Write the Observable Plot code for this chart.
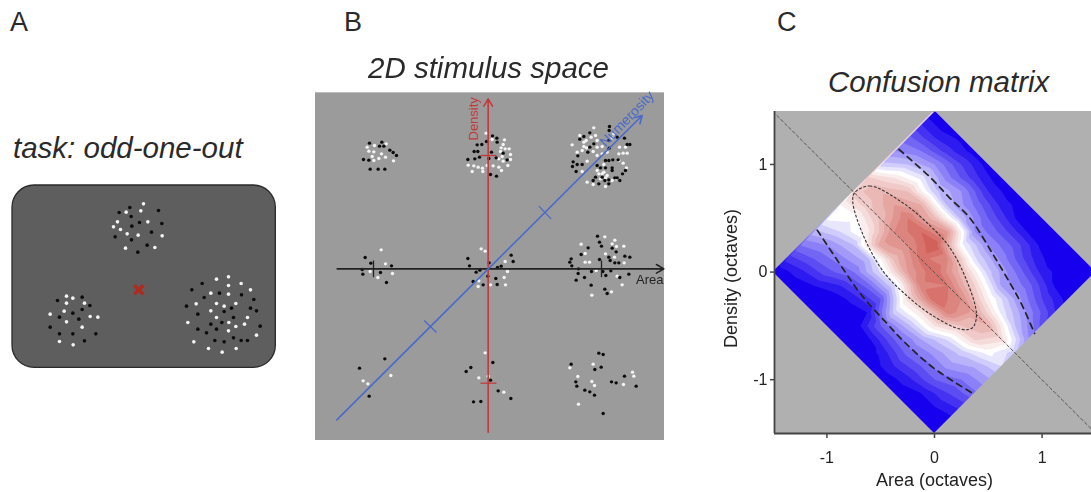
<!DOCTYPE html>
<html><head><meta charset="utf-8">
<script src="https://cdn.jsdelivr.net/npm/d3@7"></script>
<script src="https://cdn.jsdelivr.net/npm/@observablehq/plot@0.6"></script>
<style>
html,body{margin:0;padding:0;background:#fff;width:1091px;height:492px;overflow:hidden}
#page{position:relative;width:1091px;height:492px;overflow:hidden;font-family:"Liberation Sans",Arial,sans-serif;color:#2a2a2a}
.t{position:absolute;white-space:nowrap;line-height:1}
.h{font-size:29.5px;font-style:italic}
.l{font-size:27px}
svg.panel{position:absolute;background:transparent;filter:blur(.45px)}
</style></head><body><div id="page"></div>
<script>
// ---------- Panel A: odd-one-out display (stimulus units) ----------
const aTopWhite=[[429,100],[377,125],[421,121],[351,154],[339,169],[360,177],[442,154],[380,190],[413,194],[485,196],[375,233],[463,231]];
const aTopBlack=[[388,111],[356,126],[474,120],[392,138],[417,156],[484,159],[394,167],[453,185],[344,199],[393,208],[440,224],[412,245]];
const aLeftWhite=[[198,377],[217,383],[198,398],[252,398],[191,422],[149,431],[269,438],[292,440],[198,454],[245,470],[177,513],[218,523]];
const aLeftBlack=[[171,390],[245,380],[268,405],[245,417],[217,428],[177,440],[235,446],[149,470],[177,490],[217,490],[286,490],[252,511]];
const aRightWhite=[[648,326],[684,319],[684,345],[722,339],[750,358],[631,368],[684,371],[587,400],[648,399],[671,407],[706,399],[631,421],[648,441],[741,441],[562,456],[685,456],[706,468],[732,461],[684,481],[768,494],[580,514],[624,534],[665,545],[707,534]];
const aRightBlack=[[605,339],[574,358],[611,381],[657,368],[723,373],[760,387],[558,407],[693,413],[671,423],[750,413],[768,421],[592,431],[699,441],[631,461],[664,456],[779,467],[592,476],[648,476],[618,487],[699,502],[643,510],[671,514],[722,510],[741,510]];
const aFixation=[[415,358]];
const aScreen=[{x1:36,x2:826,y1:45,y2:592}];

// ---------- Panel B: stimulus space ----------
const b11Black=[[177,158],[214,155],[207,167],[220,167],[238,179],[248,186],[258,195],[159,207],[175,209],[179,236],[203,236],[223,236]];
const b11White=[[227,160],[170,170],[192,165],[175,182],[190,184],[213,190],[185,198],[205,204],[225,200],[190,210],[249,211]];
const b12Black=[[546,136],[528,153],[559,143],[500,163],[514,162],[560,155],[491,183],[502,183],[543,185],[578,188],[472,207],[493,205],[507,200],[535,204],[557,202],[590,208],[540,252],[558,257]];
const b12White=[[527,128],[545,147],[582,148],[578,162],[572,172],[584,175],[596,175],[570,183],[600,192],[575,198],[565,205],[578,212],[592,225],[473,224],[490,226],[503,230],[516,233],[530,225],[548,226],[565,230],[485,243],[517,243],[573,240],[600,207]];
const b13Black=[[897,108],[896,120],[838,127],[820,138],[808,146],[850,160],[838,170],[832,185],[802,196],[895,150],[920,140],[942,143],[950,162],[958,162],[896,173],[885,210],[895,210],[907,208],[923,208],[788,214],[800,222],[815,222],[860,225],[786,228],[797,243],[870,232],[905,232],[885,232],[905,240],[945,240],[936,250],[928,270],[895,268],[875,260],[855,260],[848,270],[865,280],[895,280],[883,270],[920,262],[913,262]];
const b13White=[[850,112],[808,135],[820,155],[785,163],[827,150],[842,140],[855,135],[860,150],[820,168],[848,183],[800,185],[860,170],[875,168],[815,180],[828,172],[910,130],[905,142],[927,170],[945,170],[938,188],[950,188],[925,190],[875,190],[890,185],[830,212],[860,195],[925,210],[938,218],[948,232],[880,222],[860,240],[815,243],[880,245],[875,250],[890,255],[870,265],[885,262],[830,275],[848,282],[885,288],[917,265],[905,270],[865,250]];
const b21Black=[[164,501],[181,518],[243,526],[155,537],[157,551],[210,546],[228,576]];
const b21White=[[212,478],[225,520],[179,543],[246,549],[202,561]];
const b22Black=[[472,504],[477,526],[602,494],[608,513],[536,517],[572,527],[561,531],[508,539],[497,545],[532,557],[556,564],[488,573],[518,583],[560,582]];
const b22White=[[512,475],[524,482],[584,513],[591,543],[581,561],[505,571],[503,588],[540,583],[585,583]];
const b23Black=[[861,437],[867,455],[873,467],[833,472],[905,473],[917,484],[812,492],[895,500],[867,507],[899,510],[943,497],[958,500],[782,505],[778,515],[784,526],[913,517],[925,517],[804,535],[843,543],[877,543],[901,541],[803,549],[886,555],[955,551],[822,561],[797,569],[928,561],[842,584],[883,596],[890,609]];
const b23White=[[883,439],[913,449],[905,460],[918,468],[940,467],[812,461],[824,489],[885,490],[912,500],[824,515],[837,515],[941,517],[857,540],[920,557],[935,583],[903,604],[844,614]];
const b31Black=[[223,805],[147,833],[176,917]];
const b31White=[[158,871],[172,880],[241,855]];
const b32Black=[[547,816],[481,831],[467,843],[540,869],[563,901],[601,924],[489,934],[511,933]];
const b32White=[[524,787],[505,862],[533,857],[580,905]];
const b33Black=[[865,788],[878,792],[782,821],[853,837],[872,830],[942,857],[796,874],[903,874],[917,877],[799,887],[977,887],[823,899],[838,904],[852,914],[878,969]];
const b33White=[[848,821],[778,832],[802,858],[844,873],[966,845],[970,857],[852,885],[939,882],[804,941]];
const bBackground=[{x1:15,x2:1062,y1:7,y2:1050}];
const bDensityAxis={x1:533,y1:1025,x2:533,y2:25};
const bAreaAxis={x1:80,y1:535,x2:1060,y2:535};
const bNumerosityAxis={x1:79,y1:988,x2:995,y2:75};
const bDensityTicks=[{x1:510,x2:558,y1:195,y2:195},{x1:510,x2:558,y1:878,y2:878}];
const bAreaTicks=[{x1:189,x2:189,y1:510,y2:560},{x1:873,x2:873,y1:510,y2:560}];
const bNumerosityTicks=[{x1:685,y1:347,x2:722,y2:385},{x1:341,y1:690,x2:378,y2:726}];

// ---------- Panel C: confusion matrix ----------
// rows: area - density; columns: area + density (octaves)
const along=[-1.5,-1.25,-1,-.75,-.5,-.25,0,.25,.5,.75,1,1.25,1.5];
const across=[-1.5,-1.25,-1,-.75,-.5,-.25,0,.25,.5,.75,1,1.25,1.5];
const confusion=[
 [0,.12,.25,.38,.51,.55,.68,.66,.42,.3,.22,.1,0],
 [0,.08,.2,.3,.45,.52,.68,.74,.6,.4,.25,.1,0],
 [0,.05,.18,.28,.4,.58,.72,.8,.7,.48,.3,.12,.03],
 [0,0,.1,.25,.38,.78,.85,.9,.75,.42,.27,.15,.02],
 [0,0,.07,.22,.46,.72,.85,.95,.72,.38,.3,.12,.02],
 [0,0,.05,.2,.45,.8,.92,1,.8,.38,.24,.1,0],
 [0,.03,.2,.42,.62,.88,.95,.85,.52,.3,.2,.08,0],
 [0,.06,.2,.38,.6,.95,.9,.72,.46,.3,.18,.05,0],
 [0,.1,.22,.35,.6,.88,.85,.65,.42,.28,.18,.04,0],
 [0,.08,.2,.32,.46,.7,.78,.56,.34,.25,.12,.03,0],
 [0,.05,.2,.32,.42,.66,.75,.48,.34,.22,.08,0,0],
 [0,.05,.15,.25,.36,.52,.62,.4,.28,.15,.04,0,0],
 [0,.02,.12,.24,.34,.45,.42,.3,.18,.1,.02,0,0]
];
const diamondX=[-1.5,0,1.5];
const diamondTop=[0,1.5,0];
const diamondBottom=[0,-1.5,0];
const diagonal=[[-1.5,1.49],[1.5,-1.5]];
const ellipse=[[-.74,.74],[-.6,.8],[-.29,.64],[-.04,.43],[.14,.23],[.3,-.08],[.39,-.4],[.35,-.52],[.24,-.53],[-.04,-.39],[-.29,-.19],[-.48,.01],[-.67,.36],[-.76,.66]];
const upperBound=[[-.33,1.14],[-.04,.88],[.14,.69],[.33,.5],[.54,.17],[.7,-.1],[.8,-.28],[.93,-.57]];
const lowerBound=[[-1.09,.39],[-.85,.03],[-.69,-.2],[-.44,-.48],[-.28,-.65],[-.01,-.89],[.36,-1.13]];
const areaTicks=[-1,0,1], densityTicks=[-1,0,1];
const areaLabel="Area (octaves)", densityLabel="Density (octaves)";

const page=document.getElementById("page");
function put(svg,left,top){svg.classList.add("panel");svg.style.left=left+"px";svg.style.top=top+"px";page.appendChild(svg);}
function dots(arr,fill,r){return Plot.dot(arr,{x:d=>d[0],y:d=>d[1],r,fill,stroke:null});}
function note(txt,cls,left,top){const d=document.createElement("div");d.className="t "+cls;d.textContent=txt;d.style.left=left+"px";d.style.top=top+"px";page.appendChild(d);}

// Panel A
put(Plot.plot({width:290,height:210,margin:0,
  x:{domain:[0,870],axis:null},y:{domain:[630,0],axis:null},
  marks:[
    Plot.rect(aScreen,{x1:"x1",x2:"x2",y1:"y1",y2:"y2",fill:"#5e5e5e",stroke:"#2a2a2a",strokeWidth:1.3,rx:22}),
    dots([...aTopWhite,...aLeftWhite,...aRightWhite],"#f4f4f4",1.8),
    dots([...aTopBlack,...aLeftBlack,...aRightBlack],"#0c0c0c",1.8),
    Plot.dot(aFixation,{x:d=>d[0],y:d=>d[1],symbol:"times",r:4.2,stroke:"#b3291c",strokeWidth:3.4})
  ]}),0,170);

// Panel B
const bBlack=[...b11Black,...b12Black,...b13Black,...b21Black,...b22Black,...b23Black,...b31Black,...b32Black,...b33Black];
const bWhite=[...b11White,...b12White,...b13White,...b21White,...b22White,...b23White,...b31White,...b32White,...b33White];
const seg=(a,stroke,w)=>Plot.link(a,{x1:"x1",x2:"x2",y1:"y1",y2:"y2",stroke,strokeWidth:w});
const axisArrow=(a,stroke)=>Plot.arrow([a],{x1:"x1",y1:"y1",x2:"x2",y2:"y2",stroke,strokeWidth:1.6,headLength:8,bend:0});
put(Plot.plot({width:370,height:375,marginTop:10,marginLeft:0,marginBottom:10,marginRight:10,
  x:{domain:[0,1080],axis:null},y:{domain:[1065,0],axis:null},
  marks:[
    Plot.rect(bBackground,{x1:"x1",x2:"x2",y1:"y1",y2:"y2",fill:"#9b9b9b"}),
    dots(bWhite,"#f4f4f4",1.7),
    dots(bBlack,"#0c0c0c",1.7),
    axisArrow(bAreaAxis,"#222"),
    axisArrow(bDensityAxis,"#c23a3c"),
    axisArrow(bNumerosityAxis,"#4a69cc"),
    seg(bAreaTicks,"#222",1.3),
    seg(bDensityTicks,"#c23a3c",1.3),
    seg(bNumerosityTicks,"#4a69cc",1.3),
    Plot.text(["Density"],{x:490,y:85,rotate:-90,fontSize:13,fill:"#c23a3c",fontFamily:"Liberation Sans"}),
    Plot.text(["Numerosity"],{x:950,y:85,rotate:-46,fontSize:14,fill:"#4a69cc",fontFamily:"Liberation Sans"}),
    Plot.text(["Area"],{x:1018,y:568,fontSize:13,fill:"#222",fontFamily:"Liberation Sans"})
  ]}),310,80);

// Panel C
const cells=[];
along.forEach((a,i)=>across.forEach((b,j)=>cells.push({x:(a+b)/2,y:(b-a)/2,z:confusion[i][j]})));
put(Plot.plot({width:391,height:392,marginLeft:74,marginTop:11,marginRight:0,marginBottom:59,
  style:{fontFamily:"Liberation Sans",color:"#222"},
  x:{domain:[-1.487,1.459]},y:{domain:[-1.5,1.492]},
  color:{type:"linear",domain:[0,.5,1],range:["#1600ee","#ffffff","#cd4f47"],interpolate:"rgb"},
  marks:[
    Plot.contour(cells,{x:"x",y:"y",fill:"z",thresholds:d3.range(0,1,.05),interpolate:"barycentric",stroke:null,clip:true,pixelSize:1}),
    Plot.areaY(diamondX,{x:d=>d,y1:(d,i)=>diamondTop[i],y2:()=>1.6,fill:"#b0b0b0",clip:true}),
    Plot.areaY(diamondX,{x:d=>d,y1:(d,i)=>diamondBottom[i],y2:()=>-1.6,fill:"#b0b0b0",clip:true}),
    Plot.line(diagonal,{x:d=>d[0],y:d=>d[1],stroke:"#555",strokeWidth:1,strokeDasharray:"3,2.5",clip:true}),
    Plot.line(ellipse,{x:d=>d[0],y:d=>d[1],curve:"catmull-rom-closed",stroke:"#333",strokeWidth:1.1,strokeDasharray:"2,2.5"}),
    Plot.line(upperBound,{x:d=>d[0],y:d=>d[1],curve:"catmull-rom",stroke:"#222",strokeWidth:1.7,strokeDasharray:"6,5"}),
    Plot.line(lowerBound,{x:d=>d[0],y:d=>d[1],curve:"catmull-rom",stroke:"#222",strokeWidth:1.7,strokeDasharray:"6,5"}),
    Plot.ruleX([-1.487],{stroke:"#444",strokeWidth:1.8}),
    Plot.ruleY([-1.5],{stroke:"#444",strokeWidth:1.8}),
    Plot.axisX(areaTicks,{tickSize:5,tickPadding:13,fontSize:16,label:null,tickFormat:d=>String(d),stroke:"#444",strokeWidth:1.5,fill:"#222"}),
    Plot.axisY(densityTicks,{tickSize:4,tickPadding:3,fontSize:16,label:null,tickFormat:d=>String(d),stroke:"#444",strokeWidth:1.5,fill:"#222"}),
    Plot.text([areaLabel],{x:()=>0,y:()=>-1.5,dy:47,fontSize:18,fill:"#222",clip:false}),
    Plot.text([densityLabel],{x:()=>-1.487,y:()=>-.06,dx:-43,rotate:-90,fontSize:18,fill:"#222",clip:false})
  ]}),700,100);

// Titles
note("A","l",10,9);note("B","l",344,9);note("C","l",777,9);
note("task: odd-one-out","h",13,133);
note("2D stimulus space","h",368,53);
note("Confusion matrix","h",828,67);
</script></body></html>
